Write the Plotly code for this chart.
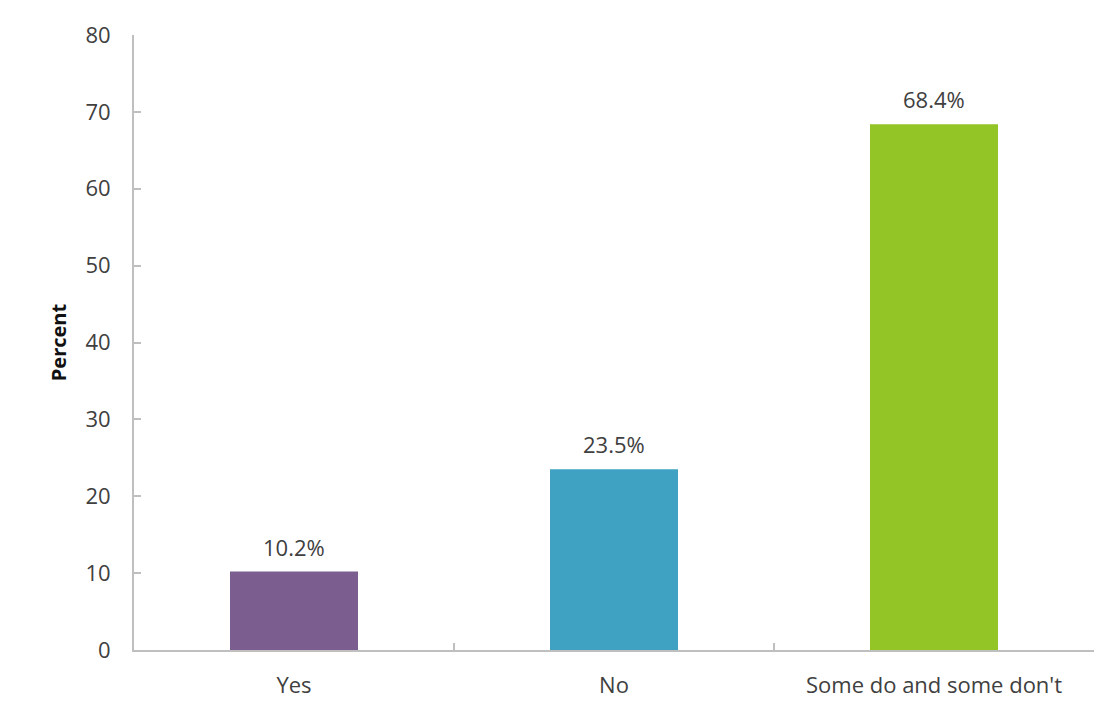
import plotly.graph_objects as go

categories = ["Yes", "No", "Some do and some don't"]
percent_values = [10.2, 23.5, 68.4]
value_labels = ["10.2%", "23.5%", "68.4%"]
bar_colors = ["#7B5E8F", "#3FA2C2", "#93C527"]
y_ticks = [0, 10, 20, 30, 40, 50, 60, 70, 80]

font_family = "Open Sans, Liberation Sans, sans-serif"
text_color = "#404040"
label_size = 22

fig = go.Figure(
    go.Bar(
        x=categories,
        y=percent_values,
        marker=dict(color=bar_colors, line=dict(width=0)),
        width=0.4,
        hoverinfo="skip",
    )
)

# value labels above each bar
for cat, val, lab in zip(categories, percent_values, value_labels):
    fig.add_annotation(
        x=cat, y=val, text=lab, showarrow=False, yshift=25,
        font=dict(family=font_family, size=label_size, color=text_color),
    )

fig.update_layout(
    width=1116,
    height=712,
    paper_bgcolor="white",
    plot_bgcolor="white",
    margin=dict(l=134, r=22, t=35, b=62),
    showlegend=False,
    font=dict(family=font_family, size=label_size, color=text_color),
)

axis_style = dict(
    showline=True,
    linecolor="#BFBFBF",
    linewidth=2,
    ticks="inside",
    ticklen=7,
    tickcolor="#BFBFBF",
    tickwidth=1.5,
    showgrid=False,
    tickfont=dict(size=label_size, color=text_color),
)

fig.update_xaxes(
    type="category",
    tickson="boundaries",
    ticklabelstandoff=15,
    **axis_style,
)

fig.update_yaxes(
    range=[0, 80],
    tickvals=y_ticks,
    zeroline=False,
    ticklabelstandoff=17,
    title=dict(
        text="<b>Percent</b>",
        font=dict(size=20, color="#111111"),
        standoff=13,
    ),
    **axis_style,
)

fig.write_html("out.html")
